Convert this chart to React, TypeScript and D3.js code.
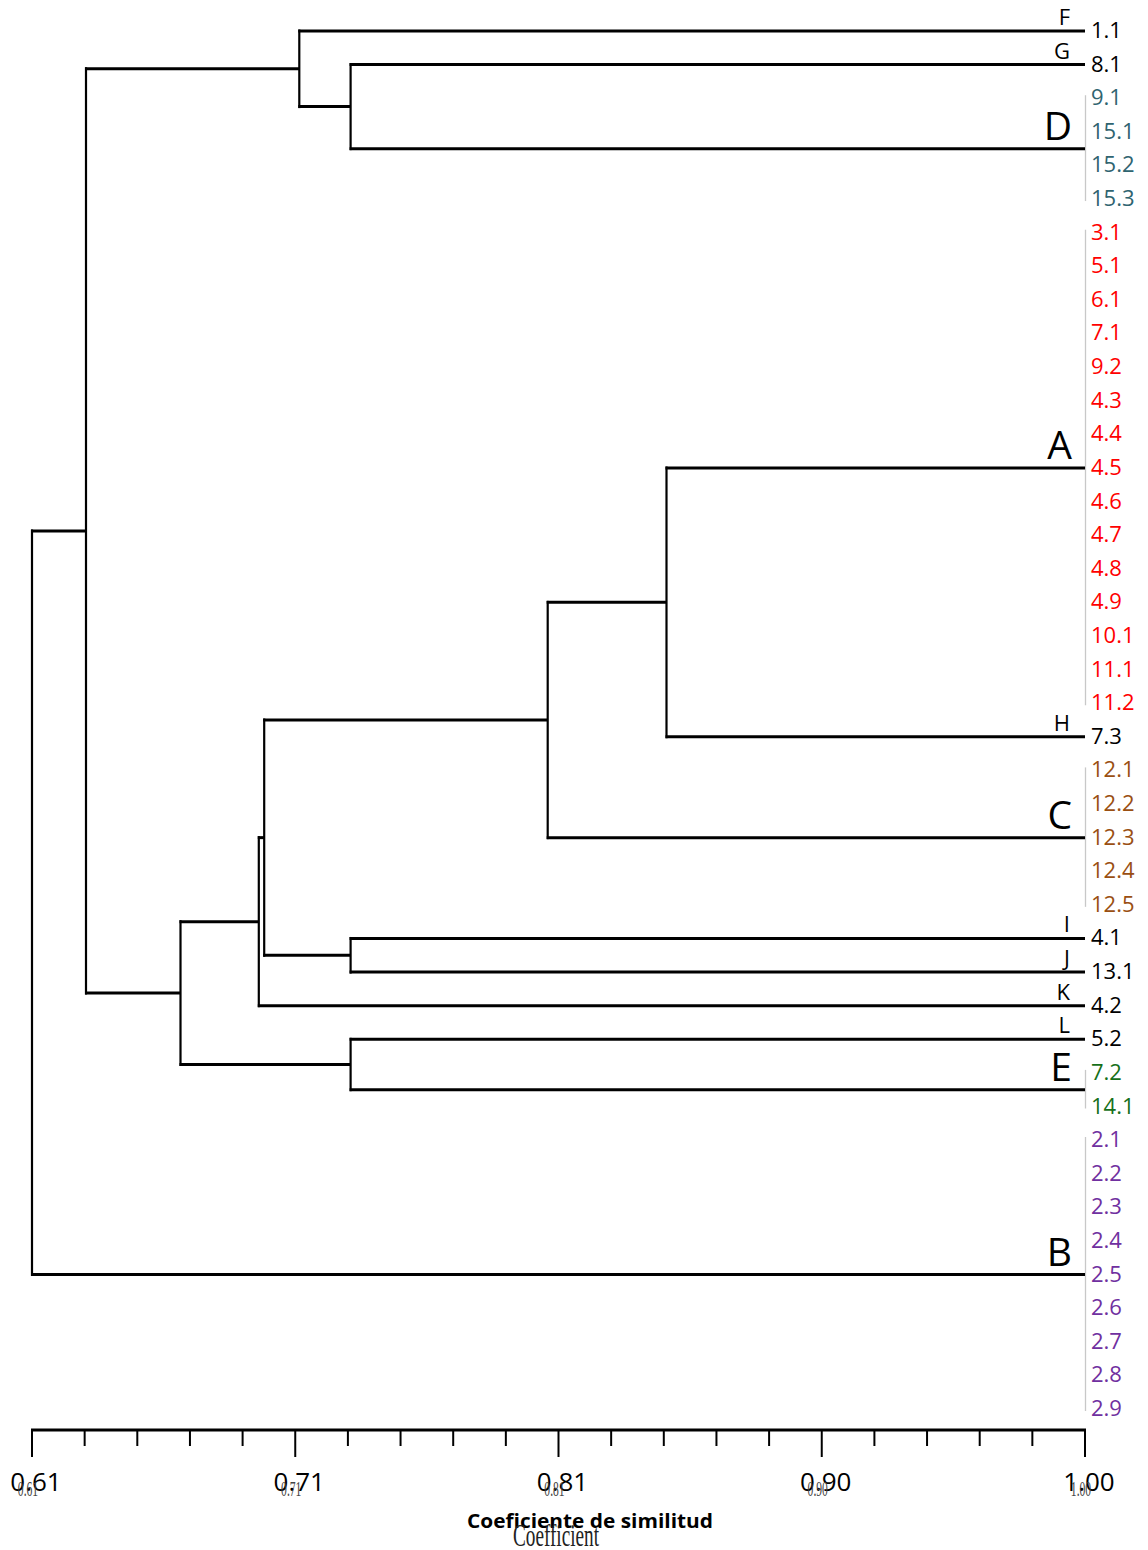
import React from "react";
import * as d3 from "d3";

// leaves, top to bottom
const leafLabels = [
  "1.1", "8.1", "9.1", "15.1", "15.2", "15.3",
  "3.1", "5.1", "6.1", "7.1", "9.2", "4.3", "4.4", "4.5", "4.6", "4.7", "4.8", "4.9", "10.1", "11.1", "11.2",
  "7.3", "12.1", "12.2", "12.3", "12.4", "12.5",
  "4.1", "13.1", "4.2", "5.2", "7.2", "14.1",
  "2.1", "2.2", "2.3", "2.4", "2.5", "2.6", "2.7", "2.8", "2.9",
];
const leafGroup = [
  "k", "k", "t", "t", "t", "t",
  "r", "r", "r", "r", "r", "r", "r", "r", "r", "r", "r", "r", "r", "r", "r",
  "k", "b", "b", "b", "b", "b",
  "k", "k", "k", "k", "g", "g",
  "p", "p", "p", "p", "p", "p", "p", "p", "p",
];
const groupColors: Record<string, string> = {
  k: "#000000",
  t: "#2f6470",
  r: "#ff0000",
  b: "#9a4f12",
  g: "#16701a",
  p: "#7030a0",
};

// terminal branches (a cluster of leaf rows each)
const clusterNames = ["F", "G", "D", "A", "H", "C", "I", "J", "K", "L", "E", "B"];
const clusterFirst = [0, 1, 2, 6, 21, 22, 27, 28, 29, 30, 31, 33];
const clusterLast = [0, 1, 5, 20, 21, 26, 27, 28, 29, 30, 32, 41];
const bigLetters = ["A", "B", "C", "D", "E"];

// merges: [node, child1, child2, similarity]
const merges: [string, string, string, number][] = [
  ["n1", "G", "D", 0.728],
  ["n2", "F", "n1", 0.709],
  ["n3", "A", "H", 0.845],
  ["n4", "n3", "C", 0.801],
  ["n5", "I", "J", 0.728],
  ["n6", "n4", "n5", 0.696],
  ["n7", "n6", "K", 0.694],
  ["n8", "L", "E", 0.728],
  ["n9", "n7", "n8", 0.665],
  ["n10", "n2", "n9", 0.63],
  ["root", "n10", "B", 0.61],
];

const axisMin = 0.61;
const axisMax = 1.0;
const tickStep = 0.0195;
const tickCount = 21;
const majorEvery = 5;
const tickLabels = ["0.61", "0.71", "0.81", "0.90", "1.00"];

const W = 1148;
const H = 1550;

export default function App() {
  const x = d3.scaleLinear().domain([axisMin, axisMax]).range([32, 1085]);
  const y = d3.scalePoint<string>().domain(leafLabels).range([31, 1409]);

  const pos: Record<string, { y: number; h: number }> = {};
  clusterNames.forEach((c, i) => {
    const y0 = y(leafLabels[clusterFirst[i]])!;
    const y1 = y(leafLabels[clusterLast[i]])!;
    pos[c] = { y: (y0 + y1) / 2, h: axisMax };
  });
  const parentOf: Record<string, string> = {};
  merges.forEach(([n, a, b, h]) => {
    pos[n] = { y: (pos[a].y + pos[b].y) / 2, h };
    parentOf[a] = n;
    parentOf[b] = n;
  });

  const black = "#000";
  const ticks = d3.range(tickCount).map((i) => axisMin + i * tickStep);
  const axisY = 1430;

  return (
    <svg
      width={W}
      height={H}
      style={{ position: "absolute", left: 0, top: 0, background: "#fff" }}
      fontFamily="'Open Sans', sans-serif"
    >
      <rect width={W} height={H} fill="#fff" />

      {/* group brackets */}
      {clusterNames.map((c, i) =>
        clusterFirst[i] === clusterLast[i] ? null : (
          <line
            key={"br" + c}
            x1={x(axisMax) + 0.5}
            x2={x(axisMax) + 0.5}
            y1={y(leafLabels[clusterFirst[i]])! - 3}
            y2={y(leafLabels[clusterLast[i]])! + 2}
            stroke="#c8c8c8"
            strokeWidth={1.3}
          />
        )
      )}

      {/* horizontal branches */}
      {Object.keys(parentOf).map((n) => (
        <line
          key={"h" + n}
          x1={x(pos[parentOf[n]].h) - 1}
          x2={x(pos[n].h)}
          y1={pos[n].y}
          y2={pos[n].y}
          stroke={black}
          strokeWidth={3}
        />
      ))}
      {/* vertical joins */}
      {merges.map(([n, a, b, h]) => (
        <line
          key={"v" + n}
          x1={x(h)}
          x2={x(h)}
          y1={pos[a].y - 1.5}
          y2={pos[b].y + 1.5}
          stroke={black}
          strokeWidth={2.2}
        />
      ))}

      {/* cluster letters */}
      {clusterNames.map((c) => {
        const big = bigLetters.includes(c);
        return (
          <text
            key={"l" + c}
            x={big ? 1072 : 1070}
            y={pos[c].y - (big ? 9 : 6)}
            textAnchor="end"
            fontSize={big ? 39 : 22}
            fill={black}
          >
            {c}
          </text>
        );
      })}

      {/* leaf labels */}
      {leafLabels.map((l, i) => (
        <text
          key={"t" + i}
          x={1091}
          y={y(l)! + 7}
          fontSize={22}
          fill={groupColors[leafGroup[i]]}
        >
          {l}
        </text>
      ))}

      {/* axis */}
      <line x1={x(axisMin) - 1} x2={x(axisMax) + 1} y1={axisY} y2={axisY} stroke={black} strokeWidth={3} />
      {ticks.map((t, i) => (
        <line
          key={"tk" + i}
          x1={x(t)}
          x2={x(t)}
          y1={axisY}
          y2={axisY + (i % majorEvery === 0 ? 27 : 16)}
          stroke={black}
          strokeWidth={2}
        />
      ))}
      {ticks
        .filter((_, i) => i % majorEvery === 0)
        .map((t, j) => (
          <g key={"tl" + j}>
            <text x={x(t) + 4} y={1491} textAnchor="middle" fontSize={26} fill={black}>
              {tickLabels[j]}
            </text>
            <text
              transform={`translate(${x(t) - 4},1496) scale(0.58,1)`}
              textAnchor="middle"
              fontSize={20}
              fontFamily="'Liberation Serif', serif"
              fill="#444"
            >
              {tickLabels[j]}
            </text>
          </g>
        ))}

      <text
        x={590}
        y={1528}
        textAnchor="middle"
        fontSize={20}
        fontWeight="bold"
        textLength={246}
        lengthAdjust="spacingAndGlyphs"
        fill={black}
      >
        Coeficiente de similitud
      </text>
      <text
        transform="translate(556,1546) scale(0.62,1)"
        textAnchor="middle"
        fontSize={31}
        fontFamily="'Liberation Serif', serif"
        fill="#222"
      >
        Coefficient
      </text>
    </svg>
  );
}
